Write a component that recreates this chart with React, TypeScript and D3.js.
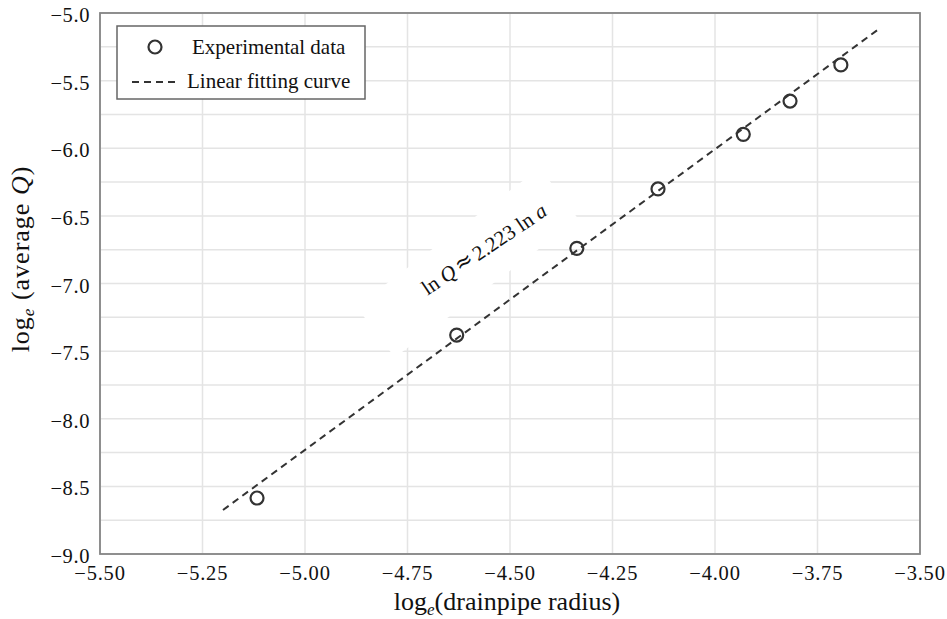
import React from "react";
import * as d3 from "d3";

// Measured flow vs drainpipe radius, both natural logs
const lnRadius = [-5.117, -4.63, -4.337, -4.139, -3.931, -3.817, -3.693];
const lnFlow = [-8.586, -7.381, -6.74, -6.301, -5.897, -5.651, -5.384];

// Least-squares line ln Q = slope * ln a + intercept
const fitSlope = 2.223;
const fitIntercept = 2.885;
const fitRange = [-5.2, -3.6];

const xTickValues = [-5.5, -5.25, -5.0, -4.75, -4.5, -4.25, -4.0, -3.75, -3.5];
const yTickValues = [-5.0, -5.5, -6.0, -6.5, -7.0, -7.5, -8.0, -8.5, -9.0];
const xGridValues = xTickValues;
const yGridValues = [-5.0, -5.25, -5.5, -5.75, -6.0, -6.25, -6.5, -6.75, -7.0, -7.25, -7.5, -7.75, -8.0, -8.25, -8.5, -8.75, -9.0];

const legendLabels = ["Experimental data", "Linear fitting curve"];

const W = 947;
const H = 619;
const plot = { left: 100, right: 920, top: 13, bottom: 554 };
const FONT = "'Liberation Serif', 'Times New Roman', Times, serif";
const INK = "#333";

const minus = (s: string) => s.replace("-", "\u2212");

export default function App() {
  const x = d3.scaleLinear().domain([-5.5, -3.5]).range([plot.left, plot.right]);
  const y = d3.scaleLinear().domain([-9.0, -5.0]).range([plot.bottom, plot.top]);

  const fitLine = d3
    .line<number>()
    .x((v) => x(v))
    .y((v) => y(fitSlope * v + fitIntercept));

  const angle = -34;
  const annX = x(-4.5537);
  const annY = y(-6.789);
  const haloX = x(-4.604);
  const haloY = y(-6.847);

  return (
    <svg width={W} height={H} style={{ position: "absolute", left: 0, top: 0, background: "#fff" }} fontFamily={FONT}>
      <rect x={0} y={0} width={W} height={H} fill="#fff" />
      {/* grid */}
      <g stroke="#e4e4e4" strokeWidth={1.5}>
        {xGridValues.map((v) => (
          <line key={"gx" + v} x1={x(v)} x2={x(v)} y1={plot.top} y2={plot.bottom} />
        ))}
        {yGridValues.map((v) => (
          <line key={"gy" + v} x1={plot.left} x2={plot.right} y1={y(v)} y2={y(v)} />
        ))}
      </g>

      {/* white backdrop behind the equation */}
      <rect
        x={-115}
        y={-32}
        width={230}
        height={64}
        fill="#fff"
        transform={`translate(${haloX},${haloY}) rotate(-37)`}
      />

      {/* fitted line */}
      <path
        d={fitLine(fitRange) || ""}
        fill="none"
        stroke={INK}
        strokeWidth={2}
        strokeDasharray="7,5"
      />

      {/* measurements */}
      {lnRadius.map((v, i) => (
        <circle key={"p" + i} cx={x(v)} cy={y(lnFlow[i])} r={6.5} fill="none" stroke={INK} strokeWidth={2.2} />
      ))}

      {/* equation */}
      <text
        transform={`translate(${annX},${annY}) rotate(${angle})`}
        textAnchor="middle"
        fontSize={21}
        fill="#111"
      >
        <tspan>ln </tspan>
        <tspan fontStyle="italic">Q</tspan>
        <tspan fontFamily="'DejaVu Sans', sans-serif" fontSize={22} dx={3} dy={-1}>{"\u2248"}</tspan>
        <tspan dx={3} dy={1}>2.223 ln </tspan>
        <tspan fontStyle="italic">a</tspan>
      </text>

      {/* frame */}
      <rect
        x={plot.left}
        y={plot.top}
        width={plot.right - plot.left}
        height={plot.bottom - plot.top}
        fill="none"
        stroke="#858585"
        strokeWidth={1.8}
      />

      {/* x tick labels */}
      <g fontSize={20.5} fill="#111" textAnchor="middle" letterSpacing={0.8}>
        {xTickValues.map((v) => (
          <text key={"xt" + v} x={x(v)} y={580}>
            {minus(d3.format(".2f")(v))}
          </text>
        ))}
      </g>
      {/* y tick labels */}
      <g fontSize={20.5} fill="#111" textAnchor="end" letterSpacing={0.6}>
        {yTickValues.map((v) => (
          <text key={"yt" + v} x={90} y={y(v) + 9}>
            {minus(d3.format(".1f")(v))}
          </text>
        ))}
      </g>

      {/* axis titles */}
      <text x={507} y={610} textAnchor="middle" fontSize={26} fill="#111">
        <tspan>log</tspan>
        <tspan fontStyle="italic" fontSize={17} dy={5}>e</tspan>
        <tspan dy={-5}>(drainpipe radius)</tspan>
      </text>
      <text transform="translate(29,259) rotate(-90)" textAnchor="middle" fontSize={26} fill="#111" letterSpacing={1}>
        <tspan>log</tspan>
        <tspan fontStyle="italic" fontSize={17} dy={5}>e</tspan>
        <tspan dy={-5}> (average </tspan>
        <tspan fontStyle="italic">Q</tspan>
        <tspan>)</tspan>
      </text>

      {/* legend */}
      <g>
        <rect x={117} y={26} width={248} height={73} fill="#fff" stroke="#666" strokeWidth={1.5} />
        <circle cx={155} cy={47} r={6.5} fill="none" stroke={INK} strokeWidth={2.2} />
        <text x={192} y={54} fontSize={21} fill="#111">{legendLabels[0]}</text>
        <line x1={132} x2={178} y1={82} y2={82} stroke={INK} strokeWidth={2} strokeDasharray="7,5" />
        <text x={187} y={88} fontSize={21} fill="#111">{legendLabels[1]}</text>
      </g>
    </svg>
  );
}
